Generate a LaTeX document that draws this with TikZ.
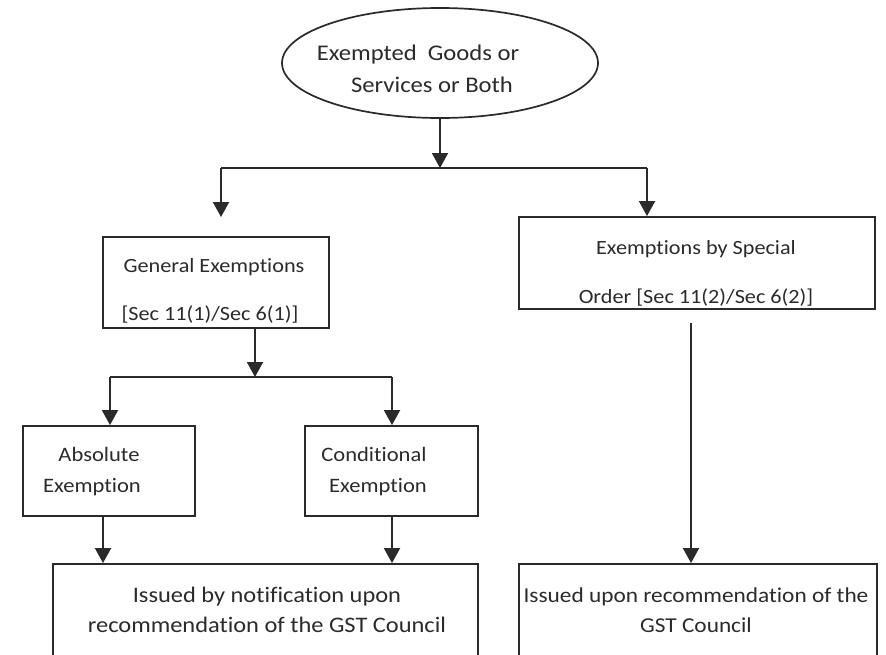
\documentclass[tikz,border=0pt]{standalone}
\usepackage{fontspec}
\setmainfont{Carlito}[FakeStretch=1.1,RawFeature=-liga]
\usetikzlibrary{arrows.meta,shapes.geometric}
\definecolor{ink}{HTML}{2A2A2A}
\definecolor{txtc}{HTML}{2B2B2B}
\begin{document}
\begin{tikzpicture}[x=1pt,y=-1pt,
  ln/.style={draw=ink,line width=1.9pt},
  arr/.style={ln,-{Triangle[width=16pt,length=15pt]}},
  box/.style={draw=ink,line width=1.9pt,rectangle,inner sep=0pt},
  tl/.style={anchor=base,inner sep=0pt,text=txtc},
  fA/.style={font=\fontsize{22.4}{26}\selectfont},
  fB/.style={font=\fontsize{20.2}{24}\selectfont},
  fC/.style={font=\fontsize{20.5}{24}\selectfont},
  fD/.style={font=\fontsize{22.2}{26}\selectfont},
  fE/.style={font=\fontsize{21.2}{25}\selectfont}]
\useasboundingbox (0,0) rectangle (886,654);
\clip (0,0) rectangle (886,654);
\fill[white] (0,0) rectangle (886,654);

% shapes
\node[draw=ink,line width=1.7pt,ellipse,minimum width=316pt,minimum height=110pt,inner sep=0pt] (top) at (440,63) {};
\node[box,minimum width=226pt,minimum height=91pt] (gen) at (216,282.5) {};
\node[box,minimum width=356pt,minimum height=92pt] (spe) at (697,263) {};
\node[box,minimum width=172pt,minimum height=90pt] (abs) at (109,471) {};
\node[box,minimum width=173pt,minimum height=90pt] (con) at (391.5,471) {};
\node[box,minimum width=425pt,minimum height=136pt] (bl) at (265.5,632) {};
\node[box,minimum width=358pt,minimum height=136pt] (br) at (698,632) {};

% texts
\node[tl,fA] (t1) at (418,60) {Exempted\ \ Goods or};
\node[tl,fA] (t2) at (432,92) {Services or Both};
\node[tl,fB] (t3) at (214,272) {General Exemptions};
\node[tl,fB] (t4) at (210,320) {[Sec 11(1)/Sec 6(1)]};
\node[tl,fB] (t5) at (696,254) {Exemptions by Special};
\node[tl,fB] (t6) at (696,303) {Order [Sec 11(2)/Sec 6(2)]};
\node[tl,fC] (t7) at (99,461) {Absolute};
\node[tl,fC] (t8) at (92,492) {Exemption};
\node[tl,fC] (t9) at (374,461) {Conditional};
\node[tl,fC] (t10) at (378,492) {Exemption};
\node[tl,fD] (t11) at (267,602) {Issued by notification upon};
\node[tl,fD] (t12) at (267,632) {recommendation of the GST Council};
\node[tl,fE] (t13) at (696,602) {Issued upon recommendation of the};
\node[tl,fE] (t14) at (696,632) {GST Council};

% junctions
\coordinate (j1) at (440,168);
\coordinate (jl) at (221,168);
\coordinate (jr) at (647,168);
\coordinate (gtip) at (221,217);
\coordinate (j2) at (255,377);
\coordinate (j2l) at (110,377);
\coordinate (j2r) at (392,377);
\coordinate (a1) at (103,0);
\coordinate (r1) at (691,323);

% connectors
\draw[arr] (top.south) -- (j1);
\draw[ln] (jl) -- (jr);
\draw[arr] (jl) -- (gtip);
\draw[arr] (jr) -- (jr |- spe.north);
\draw[arr] (gen.south -| j2) -- (j2);
\draw[ln] (j2l) -- (j2r);
\draw[arr] (j2l) -- (j2l |- abs.north);
\draw[arr] (j2r) -- (j2r |- con.north);
\draw[arr] (abs.south -| a1) -- (bl.north -| a1);
\draw[arr] (con.south -| j2r) -- (bl.north -| j2r);
\draw[arr] (r1) -- (br.north -| r1);
\end{tikzpicture}
\end{document}
